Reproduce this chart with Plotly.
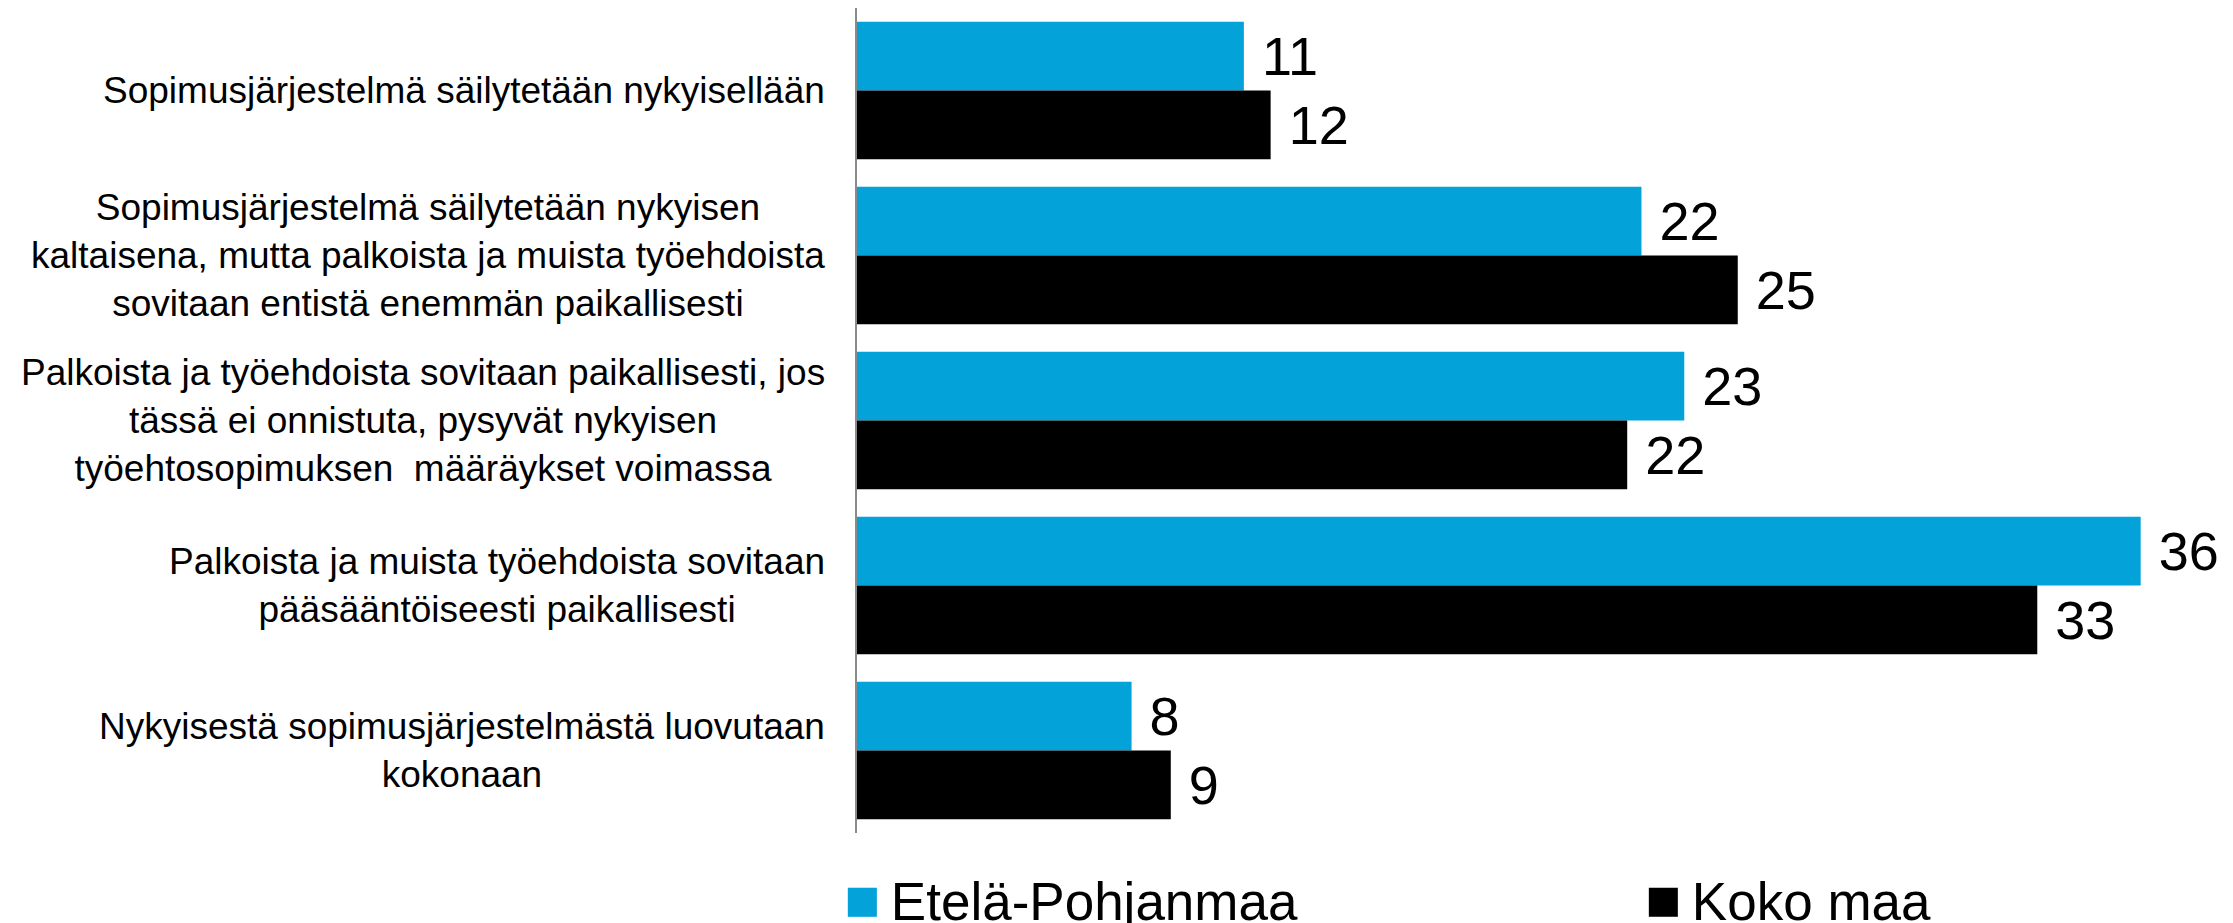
import plotly.graph_objects as go

categories = [
    "Sopimusjärjestelmä säilytetään nykyisellään",
    "Sopimusjärjestelmä säilytetään nykyisen<br>kaltaisena, mutta palkoista ja muista työehdoista<br>sovitaan entistä enemmän paikallisesti",
    "Palkoista ja työehdoista sovitaan paikallisesti, jos<br>tässä ei onnistuta, pysyvät nykyisen<br>työehtosopimuksen\u00a0 määräykset voimassa",
    "Palkoista ja muista työehdoista sovitaan<br>pääsääntöiseesti paikallisesti",
    "Nykyisestä sopimusjärjestelmästä luovutaan<br>kokonaan",
]
series_names = ["Etelä-Pohjanmaa", "Koko maa"]
etela_pohjanmaa = [10.85, 22.0, 23.2, 36.0, 7.7]
koko_maa = [11.6, 24.7, 21.6, 33.1, 8.8]

colors = ["#03A3DA", "#000000"]
font = "Liberation Sans, Arial, sans-serif"

fig = go.Figure()
for name, vals, col in zip(series_names, [etela_pohjanmaa, koko_maa], colors):
    fig.add_trace(go.Bar(
        y=categories, x=vals, name=name, orientation="h",
        marker=dict(color=col, line=dict(width=0)),
        texttemplate=" %{x:.0f}", textposition="outside",
        textfont=dict(size=54, color="black", family=font),
        constraintext="none", cliponaxis=False, showlegend=False,
    ))

# category labels, centre aligned like the original
for c in categories:
    fig.add_annotation(
        x=0, xref="paper", y=c, yref="y", xanchor="right", xshift=-30,
        text=c, align="center", showarrow=False,
        font=dict(size=37, color="black", family=font),
    )

# legend drawn as text with a square glyph
for name, col, lx in zip(series_names, colors, [-0.011, 0.580]):
    fig.add_annotation(
        x=lx, xref="paper", y=-0.080, yref="paper", xanchor="left", yanchor="middle",
        text=f"<span style='color:{col};font-size:60px'>■</span>\u2009{name}",
        showarrow=False,
        font=dict(size=53, color="black", family=font),
    )

fig.update_layout(
    width=2233, height=923,
    margin=dict(l=849, r=29, t=0, b=98),
    barmode="group", bargap=0.167, bargroupgap=0,
    plot_bgcolor="white", paper_bgcolor="white",
    font=dict(family=font, color="black"),
)
fig.update_xaxes(range=[0, 38], showgrid=False, zeroline=False,
                 showticklabels=False, ticks="")
fig.update_yaxes(autorange="reversed", showticklabels=False, ticks="",
                 showline=True, linecolor="#8a8a8a", linewidth=2,
                 showgrid=False)

fig.write_html("out.html")
